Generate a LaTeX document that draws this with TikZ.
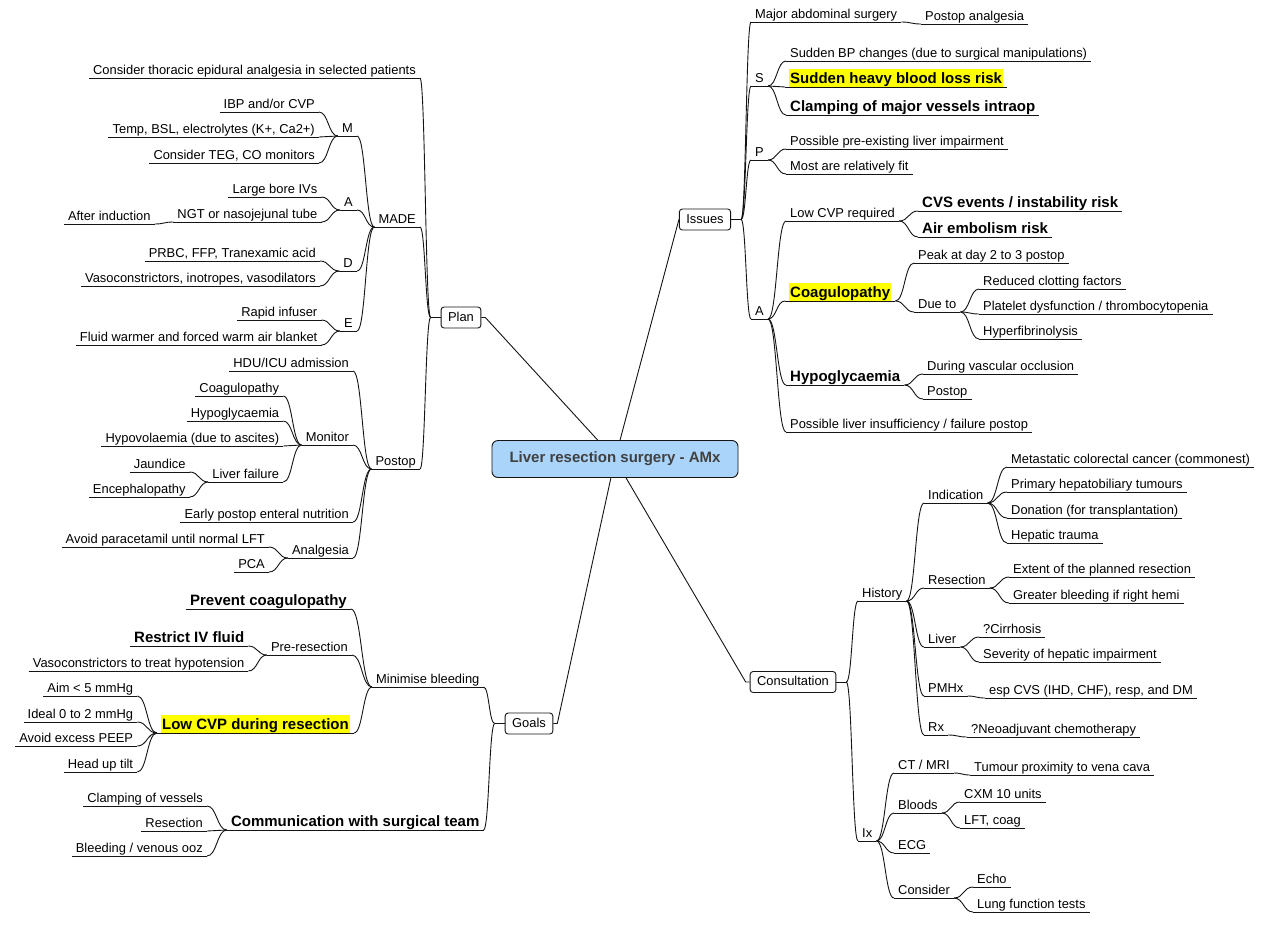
\documentclass[tikz,border=0pt]{standalone}
\usepackage{fontspec}
\setmainfont{Liberation Sans}
\usetikzlibrary{calc}
\definecolor{hly}{RGB}{255,255,0}
\definecolor{rootfill}{RGB}{170,212,250}
\definecolor{roottext}{RGB}{64,64,64}
\definecolor{ink}{RGB}{20,20,20}
% yellow marker behind a topic text
\newcommand{\hlt}[1]{{\fboxsep=1pt\colorbox{hly}{\rule[-2pt]{0pt}{16pt}#1}}}
\begin{document}
\begin{tikzpicture}[x=1pt,y=-1pt,
  every node/.style={font=\fontsize{12.9pt}{15pt}\selectfont, text=black},
  topic/.style={inner xsep=4pt, inner ysep=0.8pt, text height=9.5pt, text depth=2.5pt,
    append after command={(\tikzlastnode.south west) edge[draw=ink, line width=0.9pt] (\tikzlastnode.south east)}},
  rt/.style={topic, anchor=south west},
  lt/.style={topic, anchor=south east},
  big/.style={font=\fontsize{15pt}{18pt}\selectfont\bfseries},
  hl/.style={big, text depth=3pt, inner ysep=0.3pt},
  box/.style={draw=ink, line width=0.9pt, rounded corners=3pt, fill=white,
    inner xsep=7pt, inner ysep=0pt, minimum height=21pt, text height=9.5pt, text depth=2.5pt},
  root/.style={draw=ink, line width=0.9pt, fill=rootfill, rounded corners=6pt,
    minimum width=246pt, minimum height=37pt, text=roottext,
    font=\fontsize{15pt}{18pt}\selectfont\bfseries},
  link/.style={draw=ink, line width=0.9pt},
  br/.style={to path={let \p1=(\tikztostart), \p2=(\tikztotarget) in
    .. controls ({0.5*\x1+0.5*\x2},\y1) and ({0.5*\x1+0.5*\x2},\y2) .. (\tikztotarget)}},
]
\fill[white] (0,0) rectangle (1264,927);
\useasboundingbox (0,0) rectangle (1264,927);

% central topic
\node[root] (root) at (615,459) {Liver resection surgery - AMx};

% ---------------- Issues ----------------
\node[box] (issues) at (705,219.5) {Issues};
\node[rt] (mas) at (751,22) {Major abdominal surgery};
\node[rt] (pa) at (921,24) {Postop analgesia};
\node[rt] (s) at (751,86) {S};
\node[rt] (s1) at (786,61) {Sudden BP changes (due to surgical manipulations)};
\node[rt,hl] (s2) at (785,87) {\hlt{Sudden heavy blood loss risk}};
\node[rt,big] (s3) at (786,115) {Clamping of major vessels intraop};
\node[rt] (p) at (751,160) {P};
\node[rt] (p1) at (786,149) {Possible pre-existing liver impairment};
\node[rt] (p2) at (786,174) {Most are relatively fit};
\node[rt] (aa) at (751,319) {A};
\node[rt] (lcvp) at (786,221) {Low CVP required};
\node[rt,big] (cvs) at (918,211) {CVS events / instability risk};
\node[rt,big] (air) at (918,237) {Air embolism risk};
\node[rt,hl] (coag) at (785,301) {\hlt{Coagulopathy}};
\node[rt] (peak) at (914,263) {Peak at day 2 to 3 postop};
\node[rt] (dueto) at (914,312) {Due to};
\node[rt] (rcf) at (979,289) {Reduced clotting factors};
\node[rt] (plt) at (979,314) {Platelet dysfunction / thrombocytopenia};
\node[rt] (hyf) at (979,339) {Hyperfibrinolysis};
\node[rt,big] (hypo) at (786,385) {Hypoglycaemia};
\node[rt] (dvo) at (923,374) {During vascular occlusion};
\node[rt] (pop) at (923,399) {Postop};
\node[rt] (pli) at (786,432) {Possible liver insufficiency / failure postop};

% ---------------- Consultation ----------------
\node[box] (consult) at (793,682) {Consultation};
\node[rt] (hist) at (858,601) {History};
\node[rt] (ind) at (924,503) {Indication};
\node[rt] (met) at (1007,467) {Metastatic colorectal cancer (commonest)};
\node[rt] (prim) at (1007,492) {Primary hepatobiliary tumours};
\node[rt] (don) at (1007,518) {Donation (for transplantation)};
\node[rt] (ht) at (1007,543) {Hepatic trauma};
\node[rt] (res) at (924,588) {Resection};
\node[rt] (ext) at (1009,577) {Extent of the planned resection};
\node[rt] (gb) at (1009,603) {Greater bleeding if right hemi};
\node[rt] (liv) at (924,647) {Liver};
\node[rt] (cir) at (979,637) {?Cirrhosis};
\node[rt] (sev) at (979,662) {Severity of hepatic impairment};
\node[rt] (pmhx) at (924,696) {PMHx};
\node[rt] (esp) at (985,698) {esp CVS (IHD, CHF), resp, and DM};
\node[rt] (rx) at (924,735) {Rx};
\node[rt] (neo) at (967,737) {?Neoadjuvant chemotherapy};
\node[rt] (ix) at (858,841) {Ix};
\node[rt] (ct) at (894,773) {CT / MRI};
\node[rt] (tum) at (970,775) {Tumour proximity to vena cava};
\node[rt] (bl) at (894,813) {Bloods};
\node[rt] (cxm) at (960,802) {CXM 10 units};
\node[rt] (lft) at (960,828) {LFT, coag};
\node[rt] (ecg) at (894,853) {ECG};
\node[rt] (cons) at (894,898) {Consider};
\node[rt] (echo) at (973,887) {Echo};
\node[rt] (lung) at (973,912) {Lung function tests};

% ---------------- Plan ----------------
\node[box] (plan) at (461,317.5) {Plan};
\node[lt] (cte) at (420,78) {Consider thoracic epidural analgesia in selected patients};
\node[lt] (made) at (420,227) {MADE};
\node[lt] (mm) at (357,136) {M};
\node[lt] (ibp) at (319,112) {IBP and/or CVP};
\node[lt] (temp) at (319,137) {Temp, BSL, electrolytes (K+, Ca2+)};
\node[lt] (teg) at (319,163) {Consider TEG, CO monitors};
\node[lt] (ma) at (357,210) {A};
\node[lt] (lbi) at (321.5,197) {Large bore IVs};
\node[lt] (ngt) at (321.5,222) {NGT or nasojejunal tube};
\node[lt] (ai) at (154.7,224) {After induction};
\node[lt] (md) at (357,271) {D};
\node[lt] (prbc) at (320,261) {PRBC, FFP, Tranexamic acid};
\node[lt] (vaso) at (320,286) {Vasoconstrictors, inotropes, vasodilators};
\node[lt] (me) at (357,331) {E};
\node[lt] (ri) at (321.5,320) {Rapid infuser};
\node[lt] (fw) at (321.5,345) {Fluid warmer and forced warm air blanket};
\node[lt] (postop) at (420,469) {Postop};
\node[lt] (hdu) at (353,371) {HDU/ICU admission};
\node[lt] (mon) at (353,445) {Monitor};
\node[lt] (mcoag) at (283.3,396) {Coagulopathy};
\node[lt] (mhypo) at (283.3,421) {Hypoglycaemia};
\node[lt] (mhypov) at (283.3,446) {Hypovolaemia (due to ascites)};
\node[lt] (lf) at (283.3,482) {Liver failure};
\node[lt] (jau) at (189.7,472) {Jaundice};
\node[lt] (enc) at (189.7,497) {Encephalopathy};
\node[lt] (epen) at (353,522) {Early postop enteral nutrition};
\node[lt] (anal) at (353,558) {Analgesia};
\node[lt] (avp) at (269,547) {Avoid paracetamil until normal LFT};
\node[lt] (pca) at (269,572) {PCA};

% ---------------- Goals ----------------
\node[box] (goals) at (529,723.5) {Goals};
\node[lt] (mb) at (483.6,687) {Minimise bleeding};
\node[lt,big] (prev) at (351,609) {Prevent coagulopathy};
\node[lt] (pre) at (352,655) {Pre-resection};
\node[lt,big] (riv) at (248.4,646) {Restrict IV fluid};
\node[lt] (vth) at (248.4,671) {Vasoconstrictors to treat hypotension};
\node[lt,hl] (lcv) at (354,733) {\hlt{Low CVP during resection}};
\node[lt] (aim) at (137.3,696) {Aim < 5 mmHg};
\node[lt] (ideal) at (137.3,722) {Ideal 0 to 2 mmHg};
\node[lt] (peep) at (137.3,746) {Avoid excess PEEP};
\node[lt] (hut) at (137.3,772) {Head up tilt};
\node[lt,big] (com) at (483.6,830) {Communication with surgical team};
\node[lt] (clv) at (207,806) {Clamping of vessels};
\node[lt] (rsc) at (207,831) {Resection};
\node[lt] (bvo) at (207,856) {Bleeding / venous ooz};

% short stubs leaving the boxed topics
\coordinate (issues-r) at ([xshift=10pt]issues.east);
\coordinate (consult-r) at ([xshift=10pt]consult.east);
\coordinate (plan-l) at ([xshift=-10pt]plan.west);
\coordinate (goals-l) at ([xshift=-10pt]goals.west);
\draw[link] (issues.east) -- (issues-r);
\draw[link] (consult.east) -- (consult-r);
\draw[link] (plan.west) -- (plan-l);
\draw[link] (goals.west) -- (goals-l);

% central spokes
\draw[link] (root) -- ([xshift=4pt]plan.east) -- (plan.east);
\draw[link] (root) -- (issues.west);
\draw[link] (root) -- ([xshift=4pt]goals.east) -- (goals.east);
\draw[link] (root) -- ([xshift=-4pt]consult.west) -- (consult.west);

% branches growing to the right
\foreach \eb in {mas,s,p,aa}
  \draw[link] (issues-r) to[br] (\eb.south west);
\foreach \eb in {hist,ix}
  \draw[link] (consult-r) to[br] (\eb.south west);
\foreach \ea/\eb in {mas/pa, s/s1, s/s2, s/s3, p/p1, p/p2,
    aa/lcvp, aa/coag, aa/hypo, aa/pli, lcvp/cvs, lcvp/air,
    coag/peak, coag/dueto, dueto/rcf, dueto/plt, dueto/hyf, hypo/dvo, hypo/pop,
    hist/ind, hist/res, hist/liv, hist/pmhx, hist/rx,
    ind/met, ind/prim, ind/don, ind/ht, res/ext, res/gb, liv/cir, liv/sev,
    pmhx/esp, rx/neo, ix/ct, ix/bl, ix/ecg, ix/cons,
    ct/tum, bl/cxm, bl/lft, cons/echo, cons/lung}
  \draw[link] (\ea.south east) to[br] (\eb.south west);

% branches growing to the left
\foreach \eb in {cte,made,postop}
  \draw[link] (plan-l) to[br] (\eb.south east);
\foreach \eb in {mb,com}
  \draw[link] (goals-l) to[br] (\eb.south east);
\foreach \ea/\eb in {made/mm, made/ma, made/md, made/me,
    mm/ibp, mm/temp, mm/teg, ma/lbi, ma/ngt, ngt/ai, md/prbc, md/vaso, me/ri, me/fw,
    postop/hdu, postop/mon, postop/epen, postop/anal,
    mon/mcoag, mon/mhypo, mon/mhypov, mon/lf, lf/jau, lf/enc, anal/avp, anal/pca,
    mb/prev, mb/pre, mb/lcv, pre/riv, pre/vth,
    lcv/aim, lcv/ideal, lcv/peep, lcv/hut, com/clv, com/rsc, com/bvo}
  \draw[link] (\ea.south west) to[br] (\eb.south east);
\end{tikzpicture}
\end{document}
